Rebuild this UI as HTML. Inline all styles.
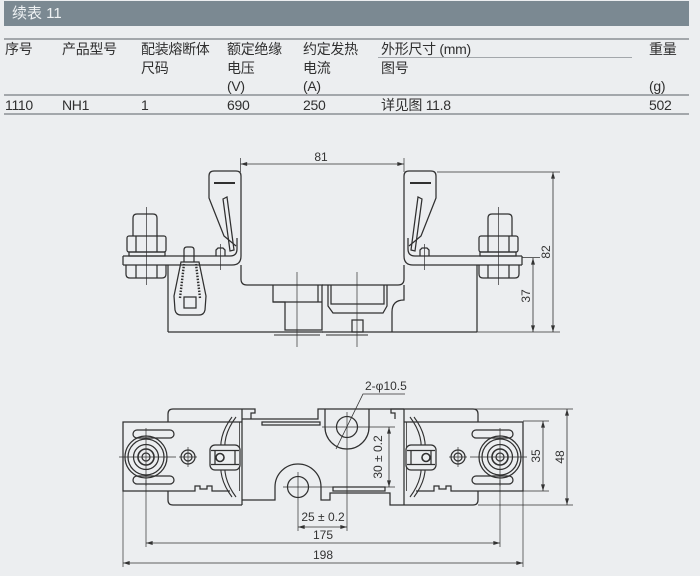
<!DOCTYPE html>
<html><head><meta charset="utf-8"><style>
html,body{margin:0;padding:0;}
body{width:700px;height:576px;background:#eceef0;position:relative;overflow:hidden;font-family:"Liberation Sans","Noto Sans CJK SC",sans-serif;color:#2f2f2f;}
.bar{position:absolute;left:4px;top:1px;width:685px;height:25px;background:#7b8992;}
.bar span{position:absolute;left:8px;top:4px;font-size:15px;line-height:17px;color:#eef1f3;}
.t{position:absolute;font-size:14px;line-height:18.5px;letter-spacing:-0.3px;white-space:nowrap;}
.hl{position:absolute;height:1.5px;background:#a3a7ab;}
svg{position:absolute;left:0;top:0;}
</style></head><body>
<div class="bar"><span>续表 11</span></div>
<div class="hl" style="left:4px;top:38px;width:685px;"></div>
<div class="hl" style="left:378px;top:57px;width:254px;height:1px;"></div>
<div class="hl" style="left:4px;top:94px;width:685px;"></div>
<div class="hl" style="left:4px;top:113px;width:685px;"></div>

<div class="t" style="left:5px;top:40px;">序号</div>
<div class="t" style="left:62px;top:40px;">产品型号</div>
<div class="t" style="left:141px;top:40px;">配装熔断体<br>尺码</div>
<div class="t" style="left:227px;top:40px;">额定绝缘<br>电压<br>(V)</div>
<div class="t" style="left:303px;top:40px;">约定发热<br>电流<br>(A)</div>
<div class="t" style="left:381px;top:40px;">外形尺寸 (mm)<br>图号</div>
<div class="t" style="left:649px;top:40px;">重量<br><br>(g)</div>

<div class="t" style="left:5px;top:96px;">1110</div>
<div class="t" style="left:62px;top:96px;">NH1</div>
<div class="t" style="left:141px;top:96px;">1</div>
<div class="t" style="left:227px;top:96px;">690</div>
<div class="t" style="left:303px;top:96px;">250</div>
<div class="t" style="left:381px;top:96px;">详见图 11.8</div>
<div class="t" style="left:649px;top:96px;">502</div>

<svg width="700" height="576" viewBox="0 0 700 576" xmlns="http://www.w3.org/2000/svg">
<defs>
<marker id="ar" viewBox="0 0 10 6" refX="10" refY="3" markerWidth="8" markerHeight="4" orient="auto-start-reverse" markerUnits="userSpaceOnUse"><path d="M0,0 L10,3 L0,6 z" fill="#333"/></marker>

<g id="topHalf" fill="none" stroke="#303030" stroke-width="1.25">
 <path d="M123,265 L232,265 Q241,265 241,256 L241,176 Q241,171 236,171 L214,171 Q209,171 209,176 L209,198 L224,236 L236,246"/>
 <path d="M123,256 L230,256 Q237,256 237,249 L237,238"/>
 <line x1="123" y1="256" x2="123" y2="265"/>
 <line x1="214" y1="183" x2="235" y2="183" stroke-width="2"/>
 <path d="M223,199 L227,197 L234,250 L230,251 Z"/>
 <path d="M216,256 L216,250 L218,248 L223,248 L225,250 L225,256"/>
 <line x1="220.5" y1="244" x2="220.5" y2="270" stroke-width="0.7"/>
 <path d="M133,236 L133,218 Q133,214 137,214 L153,214 Q157,214 157,218 L157,236"/>
 <rect x="127" y="236" width="39" height="16" rx="2"/>
 <line x1="136" y1="236" x2="136" y2="252"/>
 <line x1="157" y1="236" x2="157" y2="252"/>
 <rect x="129" y="252" width="36" height="4"/>
 <path d="M126,265 L126,274 Q126,278 130,278 L162,278 Q166,278 166,274 L166,265"/>
 <line x1="136" y1="265" x2="136" y2="278"/>
 <line x1="157" y1="265" x2="157" y2="278"/>
 <line x1="146.5" y1="207" x2="146.5" y2="285" stroke-width="0.7"/>
 <path d="M241,265 L241,279 Q241,285 247,285 L323,285"/>
 <line x1="168" y1="265" x2="168" y2="332"/>
 <line x1="168" y1="332" x2="323" y2="332"/>
</g>

<g id="botHalf" fill="none" stroke="#303030" stroke-width="1.25">
 <path d="M242,422 L123,422 L123,491 L195,491 L195,486 L200,486 L200,489 L207,489 L207,486 L212,486 L212,491 L230,491"/>
 <path d="M168,422 L168,414 Q168,409 173,409 L242,409"/>
 <path d="M168,491 L168,500 Q168,505 173,505 L242,505"/>
 <line x1="242" y1="409" x2="242" y2="505"/>
 <line x1="239.5" y1="422" x2="239.5" y2="491" stroke-width="0.8"/>
 <path d="M242,409 L255,409 L255,413 L251,413 L251,419"/>
 <circle cx="146" cy="457" r="21"/>
 <circle cx="146" cy="457" r="18"/>
 <circle cx="146" cy="457" r="12.5"/>
 <circle cx="146" cy="457" r="8" stroke-width="1.6"/>
 <circle cx="146" cy="457" r="4"/>
 <rect x="133" y="430" width="41" height="8" rx="4"/>
 <rect x="133" y="476" width="41" height="8" rx="4"/>
 <line x1="119" y1="457" x2="176" y2="457" stroke-width="0.7"/>
 <line x1="146" y1="428" x2="146" y2="486" stroke-width="0.7"/>
 <circle cx="188" cy="457" r="7"/>
 <circle cx="188" cy="457" r="4"/>
 <line x1="179" y1="457" x2="197" y2="457" stroke-width="0.7"/>
 <line x1="188" y1="447" x2="188" y2="467" stroke-width="0.7"/>
 <path d="M232,417 Q217,437 222,457 Q217,477 232,497" stroke-width="1.1"/>
 <path d="M236,417 Q221,437 226,457 Q221,477 236,497" stroke-width="1.1"/>
 <rect x="210" y="445" width="30" height="25" rx="5" fill="#eceef0"/>
 <line x1="211" y1="450.5" x2="239" y2="450.5"/>
 <line x1="211" y1="464.5" x2="239" y2="464.5"/>
 <line x1="215" y1="450.5" x2="215" y2="464.5"/>
 <line x1="235" y1="450.5" x2="235" y2="464.5"/>
 <circle cx="220" cy="457.5" r="4" stroke-width="1.6"/>
</g>
</defs>

<g font-family="Liberation Sans, sans-serif" font-size="12" fill="#333">
<use href="#topHalf"/>
<use href="#topHalf" transform="translate(645,0) scale(-1,1)"/>
<g fill="none" stroke="#303030" stroke-width="1.25">
 <path d="M184,262 L184,250 Q184,247 187,247 L191,247 Q194,247 194,250 L194,262"/>
 <path d="M181,262 L199,262 L206,296 L205,310 Q204,315 199,315 L181,315 Q176,315 175,310 L174,296 Z"/>
 <rect x="184" y="297" width="12" height="11"/>
 <path d="M180,298 L184,264 M200,298 L196,264" stroke-dasharray="1.5 1.5" stroke-width="2.4"/>
 <path d="M273,285 L273,302 L285,302 L285,330 L322,330 L322,285"/>
 <line x1="318" y1="285" x2="318" y2="302"/>
 <line x1="273" y1="302" x2="322" y2="302"/>
 <path d="M328,285 L328,306 L333,313 L383,313 L387,306 L387,285"/>
 <path d="M331,285 L331,304 L384,304 L384,285"/>
 <rect x="352" y="320" width="11" height="12"/>
 <path d="M274,335 L320,335 M326,335 L368,335" stroke-width="1"/>
 <path d="M404,285 L404,300 Q392,300 392,312 L392,332"/>
 <line x1="297" y1="272" x2="297" y2="347" stroke-width="0.7"/>
 <line x1="357" y1="272" x2="357" y2="347" stroke-width="0.7"/>
 <line x1="240.5" y1="158" x2="240.5" y2="172" stroke-width="0.7"/>
 <line x1="404" y1="158" x2="404" y2="172" stroke-width="0.7"/>
 <line x1="240.5" y1="164" x2="404" y2="164" stroke-width="0.8" marker-start="url(#ar)" marker-end="url(#ar)"/>
 <line x1="437" y1="172" x2="560" y2="172" stroke-width="0.7"/>
 <line x1="477" y1="332" x2="560" y2="332" stroke-width="0.7"/>
 <line x1="522" y1="257.5" x2="540" y2="257.5" stroke-width="0.7"/>
 <line x1="553" y1="172" x2="553" y2="332" stroke-width="0.8" marker-start="url(#ar)" marker-end="url(#ar)"/>
 <line x1="533" y1="258" x2="533" y2="332" stroke-width="0.8" marker-start="url(#ar)" marker-end="url(#ar)"/>
</g>
<text x="321" y="161" text-anchor="middle">81</text>
<text transform="translate(550,252) rotate(-90)" text-anchor="middle">82</text>
<text transform="translate(530,296) rotate(-90)" text-anchor="middle">37</text>

<use href="#botHalf"/>
<use href="#botHalf" transform="translate(646,0) scale(-1,1)"/>
<g fill="none" stroke="#303030" stroke-width="1.25">
 <path d="M242,419 L318,419 L318,409 L404,409"/>
 <rect x="262" y="422" width="58" height="3"/>
 <path d="M325,409 L325,427 A22,22 0 0 0 369,427 L369,409"/>
 <circle cx="347" cy="427" r="10.5"/>
 <path d="M242,500 L275,500 L275,487 A23,23 0 0 1 321,487 L321,500 L330,500 L330,493 L390,493 L390,505 L404,505"/>
 <rect x="333" y="487" width="52" height="4"/>
 <circle cx="298" cy="487" r="10.5"/>
 <line x1="283" y1="487" x2="395" y2="487" stroke-width="0.7"/>
 <line x1="322" y1="427" x2="395" y2="427" stroke-width="0.7"/>
 <line x1="347" y1="412" x2="347" y2="531" stroke-width="0.7"/>
 <line x1="298" y1="472" x2="298" y2="531" stroke-width="0.7"/>
 <line x1="146" y1="480" x2="146" y2="547" stroke-width="0.7"/>
 <line x1="500" y1="480" x2="500" y2="547" stroke-width="0.7"/>
 <line x1="123" y1="491" x2="123" y2="567" stroke-width="0.7"/>
 <line x1="523" y1="491" x2="523" y2="567" stroke-width="0.7"/>
 <line x1="123" y1="563" x2="523" y2="563" stroke-width="0.8" marker-start="url(#ar)" marker-end="url(#ar)"/>
 <line x1="146" y1="543" x2="500" y2="543" stroke-width="0.8" marker-start="url(#ar)" marker-end="url(#ar)"/>
 <line x1="298" y1="527" x2="347" y2="527" stroke-width="0.8" marker-start="url(#ar)" marker-end="url(#ar)"/>
 <line x1="389" y1="427" x2="389" y2="487" stroke-width="0.8" marker-start="url(#ar)" marker-end="url(#ar)"/>
 <line x1="523" y1="421" x2="549" y2="421" stroke-width="0.7"/>
 <line x1="523" y1="491" x2="549" y2="491" stroke-width="0.7"/>
 <line x1="543" y1="421" x2="543" y2="491" stroke-width="0.8" marker-start="url(#ar)" marker-end="url(#ar)"/>
 <line x1="473" y1="409" x2="573" y2="409" stroke-width="0.7"/>
 <line x1="478" y1="505" x2="573" y2="505" stroke-width="0.7"/>
 <line x1="567" y1="409" x2="567" y2="505" stroke-width="0.8" marker-start="url(#ar)" marker-end="url(#ar)"/>
 <path d="M405,394 L363,394 L336,449" stroke-width="0.8"/>
</g>
<text x="365" y="390">2-φ10.5</text>
<text x="323" y="521" text-anchor="middle">25 ± 0.2</text>
<text x="323" y="539" text-anchor="middle">175</text>
<text x="323" y="559" text-anchor="middle">198</text>
<text transform="translate(382,457) rotate(-90)" text-anchor="middle">30 ± 0.2</text>
<text transform="translate(540,456) rotate(-90)" text-anchor="middle">35</text>
<text transform="translate(564,457) rotate(-90)" text-anchor="middle">48</text>
</g>
</svg>
</body></html>
